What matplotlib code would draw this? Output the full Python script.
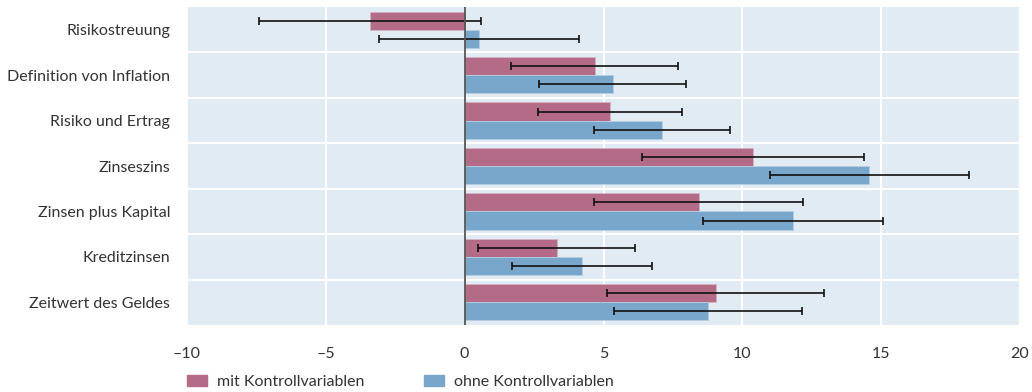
import numpy as np
import matplotlib.pyplot as plt
from matplotlib.patches import Patch

plt.rcParams['font.family'] = ['Lato', 'DejaVu Sans']

categories = ["Risikostreuung", "Definition von Inflation", "Risiko und Ertrag",
              "Zinseszins", "Zinsen plus Kapital", "Kreditzinsen", "Zeitwert des Geldes"]
mit_kontroll = [-3.41, 4.68, 5.23, 10.38, 8.43, 3.31, 9.04]
mit_err = [3.98, 3.0, 2.6, 4.0, 3.76, 2.82, 3.9]
ohne_kontroll = [0.52, 5.33, 7.11, 14.57, 11.83, 4.22, 8.76]
ohne_err = [3.61, 2.64, 2.44, 3.59, 3.25, 2.52, 3.4]
xticks = [-10, -5, 0, 5, 10, 15, 20]
xticklabels = ["\u201310", "\u20135", "0", "5", "10", "15", "20"]

red = "#b46b87"
blue = "#79a7cb"
bg = "#e1ebf4"
txt = "#333333"

fig = plt.figure(figsize=(10.32, 3.92), dpi=100)
ax = fig.add_axes([0.1812, 0.171, 0.8072, 0.811])
ax.set_facecolor(bg)

y = np.arange(len(categories))
h = 0.4
ax.barh(y - h / 2, mit_kontroll, height=h, color=red, edgecolor="#d7b3c2", linewidth=0.6,
        zorder=2)
ax.barh(y + h / 2, ohne_kontroll, height=h, color=blue, edgecolor="#b7cfe3", linewidth=0.6,
        zorder=2)
ax.errorbar(mit_kontroll, y - h / 2, xerr=mit_err, fmt="none", ecolor="#111111",
            elinewidth=1.2, capsize=2.8, capthick=1.2, zorder=3)
ax.errorbar(ohne_kontroll, y + h / 2, xerr=ohne_err, fmt="none", ecolor="#111111",
            elinewidth=1.2, capsize=2.8, capthick=1.2, zorder=3)

# grid: white verticals at ticks, white separators between rows
for x in xticks:
    ax.axvline(x, color="white", linewidth=1.5, zorder=1)
for b in np.arange(len(categories) - 1) + 0.5:
    ax.axhline(b, color="white", linewidth=1.5, zorder=1)
ax.axvline(0, color="#555555", linewidth=1.3, zorder=4)

ax.set_xlim(-10, 20)
ax.set_ylim(len(categories) - 0.5, -0.5)
ax.set_yticks(y)
ax.set_yticklabels(categories, fontsize=11.5, color=txt)
ax.set_xticks(xticks)
ax.set_xticklabels(xticklabels, fontsize=11.5, color=txt)
ax.tick_params(length=0)
ax.tick_params(axis="x", pad=16)
ax.tick_params(axis="y", pad=12)
for s in ax.spines.values():
    s.set_visible(False)

handles = [Patch(color=red, label="mit Kontrollvariablen"),
           Patch(color=blue, label="ohne Kontrollvariablen")]
leg = fig.legend(handles=handles, loc="lower left", bbox_to_anchor=(0.167, -0.03), ncol=2,
                 frameon=False, fontsize=11.5, handlelength=1.25, handleheight=0.7,
                 columnspacing=3.7, handletextpad=0.65)
for t in leg.get_texts():
    t.set_color(txt)

fig.savefig("out.png", dpi=100)
